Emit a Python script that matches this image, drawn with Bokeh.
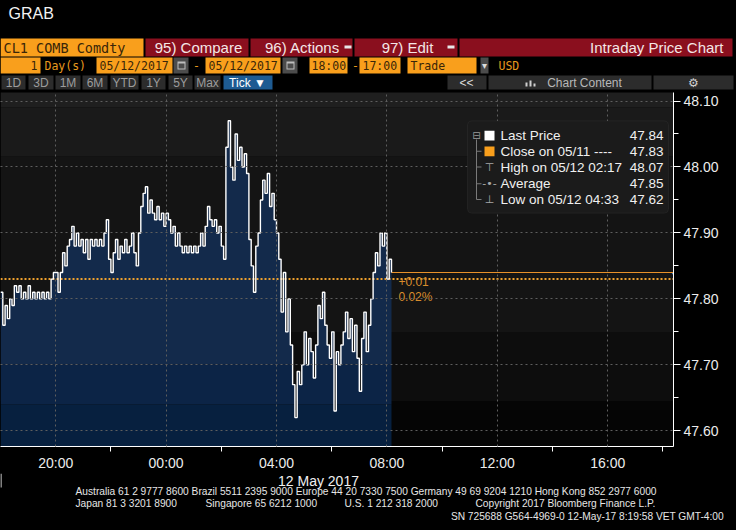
import numpy as np
import pandas as pd
from bokeh.plotting import figure
from bokeh.models import (Range1d, FixedTicker, NumeralTickFormatter, DatetimeTickFormatter,
                          Label, BoxAnnotation, ColumnDataSource)
from bokeh.layouts import column
from bokeh.embed import file_html
from bokeh.resources import INLINE

# ---------------- data ----------------
price = [
    47.81, 47.76, 47.79, 47.77, 47.80, 47.79, 47.82, 47.81, 47.82, 47.80,
    47.81, 47.80, 47.82, 47.80, 47.81, 47.80, 47.81, 47.80, 47.81, 47.80,
    47.81, 47.80, 47.83, 47.84, 47.84, 47.81, 47.84, 47.87, 47.85, 47.88,
    47.89, 47.91, 47.88, 47.90, 47.88, 47.89, 47.87, 47.89, 47.86, 47.89,
    47.88, 47.89, 47.88, 47.89, 47.88, 47.90, 47.92, 47.86, 47.84, 47.87,
    47.89, 47.86, 47.88, 47.87, 47.89, 47.87, 47.88, 47.90, 47.87, 47.85,
    47.90, 47.94, 47.96, 47.97, 47.93, 47.95, 47.93, 47.92, 47.94, 47.92,
    47.93, 47.91, 47.93, 47.92, 47.90, 47.91, 47.88, 47.90, 47.88, 47.87,
    47.88, 47.87, 47.88, 47.87, 47.88, 47.87, 47.88, 47.90, 47.88, 47.91,
    47.94, 47.92, 47.91, 47.92, 47.90, 47.91, 47.88, 47.86, 48.03, 48.07,
    48.00, 47.98, 48.05, 48.01, 48.03, 48.00, 48.02, 47.99, 47.89, 47.85,
    47.81, 47.88, 47.90, 47.95, 47.98, 47.96, 47.99, 47.94, 47.96, 47.92,
    47.90, 47.86, 47.78, 47.84, 47.75, 47.80, 47.73, 47.67, 47.62, 47.69,
    47.67, 47.70, 47.75, 47.70, 47.74, 47.72, 47.68, 47.73, 47.79, 47.77,
    47.81, 47.76, 47.73, 47.71, 47.75, 47.63, 47.72, 47.70, 47.73, 47.75,
    47.78, 47.74, 47.77, 47.72, 47.76, 47.71, 47.66, 47.74, 47.78, 47.72,
    47.76, 47.80, 47.84, 47.87, 47.85, 47.90, 47.88, 47.90, 47.83, 47.86,
    47.84,
]
start_time = "2017-05-11 18:00"
window_hours = 24.384
prev_close = 47.83
change_text = ["+0.01", "0.02%"]

legend_names = ["Last Price", "Close on 05/11 ----", "High on 05/12 02:17", "Average", "Low on 05/12 04:33"]
legend_values = ["47.84", "47.83", "48.07", "47.85", "47.62"]

y_ticks = [47.60, 47.70, 47.80, 47.90, 48.00, 48.10]
y_minor = [47.65, 47.75, 47.85, 47.95, 48.05]
x_major = ["2017-05-11 20:00", "2017-05-12 00:00", "2017-05-12 04:00",
           "2017-05-12 08:00", "2017-05-12 12:00", "2017-05-12 16:00"]
x_minor = ["2017-05-11 22:00", "2017-05-12 02:00", "2017-05-12 06:00",
           "2017-05-12 10:00", "2017-05-12 14:00", "2017-05-12 18:00"]
date_label = "12 May 2017"

bg_edges = [47.50, 47.645, 47.749, 48.016, 48.090, 48.20]
bg_colors = ["#050505", "#0d0d0d", "#141414", "#1a1a1a", "#1f1f1f"]
fill_edges = [47.50, 47.64, 47.70, 48.20]
fill_colors = ["#07203f", "#0c2446", "#132a4b"]

footer_lines = [
    (75, 18, "left", "Australia 61 2 9777 8600 Brazil 5511 2395 9000 Europe 44 20 7330 7500 Germany 49 69 9204 1210 Hong Kong 852 2977 6000"),
    (75, 30, "left", "Japan 81 3 3201 8900"),
    (205, 30, "left", "Singapore 65 6212 1000"),
    (344, 30, "left", "U.S. 1 212 318 2000"),
    (475, 30, "left", "Copyright 2017 Bloomberg Finance L.P."),
    (729, 43, "right", "SN 725688 G564-4969-0 12-May-17  8:19:58 VET  GMT-4:00"),
]

ORANGE = "#f99f1c"
RED = "#8a0f1e"
GRAY = "#4c4c4c"
BTN = "#2c2c2c"
DARK = "#3a2608"
SANS = "Liberation Sans"
MONO = "DejaVu Sans Mono"


def ms(s):
    return pd.Timestamp(s).value / 1e6


def draw_texts(fig, rows):
    src = ColumnDataSource(dict(
        x=[r[0] for r in rows], y=[r[1] for r in rows], text=[r[2] for r in rows],
        color=[r[3] for r in rows], size=[r[4] for r in rows],
        align=[r[5] for r in rows], font=[r[6] for r in rows]))
    fig.text(x="x", y="y", text="text", text_color="color", text_font_size="size",
             text_align="align", text_font="font", text_baseline="middle", source=src)


def draw_boxes(fig, rows):
    src = ColumnDataSource(dict(
        l=[r[0] for r in rows], r=[r[1] for r in rows], t=[r[2] for r in rows],
        b=[r[3] for r in rows], c=[r[4] for r in rows]))
    fig.quad(left="l", right="r", top="t", bottom="b", fill_color="c", line_color=None, source=src)


def pixel_fig(h):
    f = figure(width=736, height=h, x_range=Range1d(0, 736), y_range=Range1d(h, 0),
               toolbar_location=None, output_backend="svg", x_axis_location=None,
               y_axis_location=None, min_border=0, background_fill_color="black",
               border_fill_color="black", outline_line_color=None, frame_align=False)
    f.xgrid.visible = False
    f.ygrid.visible = False
    return f


# ---------------- header ----------------
header = pixel_fig(92)
buttons = [("1D", 1, 25), ("3D", 28, 53), ("1M", 55, 80), ("6M", 82, 107), ("YTD", 110, 138),
           ("1Y", 141, 165), ("5Y", 168, 192), ("Max", 194, 220)]
hb = [
    (0, 143, 38, 56, ORANGE), (145, 248, 38, 56, RED), (250, 352, 38, 56, RED),
    (354, 457, 38, 56, RED), (459, 732, 38, 56, RED),
    (344, 351, 45, 48, "#e8e8e8"), (447, 454, 45, 48, "#e8e8e8"),
    (0, 40, 57, 73, ORANGE), (96, 172, 57, 73, ORANGE), (173, 188, 57, 73, GRAY),
    (205, 280, 57, 73, ORANGE), (282, 297, 57, 73, GRAY), (309, 347, 57, 73, ORANGE),
    (359, 400, 57, 73, ORANGE), (407, 476, 57, 73, ORANGE), (480, 488, 57, 73, GRAY),
    (177, 185, 61, 69, "#bdbdbd"), (178, 184, 63, 68, GRAY),
    (286, 294, 61, 69, "#bdbdbd"), (287, 293, 63, 68, GRAY),
]
for _, a, b in buttons:
    hb.append((a, b, 75, 89, BTN))
hb += [(223, 272, 75, 89, "#1e5b92"), (447, 486, 75, 89, BTN), (488, 651, 75, 89, BTN),
       (653, 733, 75, 89, BTN),
       (525, 527, 82, 86, "#cfcfcf"), (529, 531, 80, 86, "#cfcfcf"), (533, 535, 83, 86, "#cfcfcf")]
draw_boxes(header, hb)

ht = [
    (8, 13, "GRAB", "#f2f2f2", "16px", "left", SANS),
    (3, 47, "CL1 COMB Comdty", DARK, "13.5px", "left", MONO),
    (198, 47, "95) Compare", "#f4e6e6", "15px", "center", SANS),
    (302, 47, "96) Actions", "#f4e6e6", "15px", "center", SANS),
    (407, 47, "97) Edit", "#f4e6e6", "15px", "center", SANS),
    (723, 47, "Intraday Price Chart", "#f4e6e6", "15px", "right", SANS),
    (37, 65, "1", DARK, "11.5px", "right", MONO),
    (44, 65, "Day(s)", "#e8991e", "11.5px", "left", MONO),
    (99, 65, "05/12/2017", DARK, "11.5px", "left", MONO),
    (196, 65, "-", "#e8991e", "11.5px", "center", MONO),
    (208, 65, "05/12/2017", DARK, "11.5px", "left", MONO),
    (311, 65, "18:00", DARK, "11.5px", "left", MONO),
    (355, 65, "-", "#e8991e", "11.5px", "center", MONO),
    (362, 65, "17:00", DARK, "11.5px", "left", MONO),
    (410, 65, "Trade", DARK, "11.5px", "left", MONO),
    (484, 65, "▾", "#dddddd", "10px", "center", SANS),
    (498, 65, "USD", "#e8991e", "11.5px", "left", MONO),
    (247, 82, "Tick ▼", "#ffffff", "12px", "center", SANS),
    (466, 82, "<<", "#dcdcdc", "12px", "center", SANS),
    (584, 82, "Chart Content", "#b8b8b8", "12px", "center", SANS),
    (693, 82, "⚙", "#cfcfcf", "12px", "center", "DejaVu Sans"),
]
for name, a, b in buttons:
    ht.append(((a + b) / 2, 82, name, "#9c9c9c", "12px", "center", SANS))
draw_texts(header, ht)

# ---------------- chart ----------------
times = pd.date_range(start_time, periods=len(price), freq="5min")
x_start = ms(start_time)
x_end = x_start + window_hours * 3600e3
price_arr = np.array(price)

p = figure(width=736, height=381, x_axis_type="datetime", y_axis_location="right",
           x_range=Range1d(x_start, x_end), y_range=Range1d(47.5762, 48.1129),
           toolbar_location=None, output_backend="svg", frame_align=False,
           background_fill_color="black", border_fill_color="black", outline_line_color=None,
           min_border_left=0, min_border_top=0, min_border_right=63, min_border_bottom=20)
p.extra_x_ranges = {"px": Range1d(0, 673)}
p.extra_y_ranges = {"py": Range1d(453, 92)}

# background bands
p.quad(left=x_start, right=x_end, bottom=bg_edges[:-1], top=bg_edges[1:],
       fill_color=bg_colors, line_color=None)

# area fill bands under the price
for lo, hi, col in zip(fill_edges[:-1], fill_edges[1:], fill_colors):
    p.varea_step(x=times, y1=np.full(len(price), lo), y2=np.clip(price_arr, lo, hi),
                 step_mode="after", fill_color=col)

# previous close (dotted) and last price line
p.line(x=[x_start, x_end], y=[prev_close, prev_close], line_color="#eea12e",
       line_width=2, line_dash="2 2")
p.line(x=[times[-1], pd.Timestamp(x_end, unit="ms")], y=[price[-1], price[-1]],
       line_color="#e8912a", line_width=1.2)

p.step(x=times, y=price, mode="after", line_color="white", line_width=1.4)

p.text(x=[times[-1] + pd.Timedelta(minutes=15)] * 2, y=[prev_close, prev_close],
       text=change_text, y_offset=[2, 18], text_color="#d88c2c", text_font_size="12px",
       text_baseline="middle", text_align="left")

# axes
p.xaxis.ticker = FixedTicker(ticks=[ms(t) for t in x_major], minor_ticks=[ms(t) for t in x_minor])
p.xaxis.formatter = DatetimeTickFormatter(hours="%H:%M", hourmin="%H:%M", days="%H:%M",
                                          minutes="%H:%M", minsec="%H:%M", context=None)
p.xaxis.axis_line_color = "white"
p.xaxis.major_tick_out = 0
p.xaxis.major_tick_in = 0
p.xaxis.minor_tick_out = 5
p.xaxis.minor_tick_in = 0
p.xaxis.minor_tick_line_color = "white"
p.xaxis.major_label_standoff = 3
p.xaxis.major_label_text_color = "#ececec"
p.xaxis.major_label_text_font = SANS
p.xaxis.major_label_text_font_size = "14px"

p.yaxis.ticker = FixedTicker(ticks=y_ticks, minor_ticks=y_minor)
p.yaxis.formatter = NumeralTickFormatter(format="0.00")
p.yaxis.axis_line_color = "white"
p.yaxis.major_tick_out = 7
p.yaxis.major_tick_in = 0
p.yaxis.major_tick_line_color = "white"
p.yaxis.minor_tick_out = 5
p.yaxis.minor_tick_in = 0
p.yaxis.minor_tick_line_color = "white"
p.yaxis.major_label_standoff = 3
p.yaxis.major_label_text_color = "#ececec"
p.yaxis.major_label_text_font = SANS
p.yaxis.major_label_text_font_size = "14px"

for g in (p.xgrid, p.ygrid):
    g.grid_line_color = "#5e5e5e"
    g.grid_line_dash = "2 3"
    g.level = "annotation"
p.xgrid.ticker = FixedTicker(ticks=[ms(t) for t in x_major])
p.ygrid.ticker = FixedTicker(ticks=y_ticks)

# arrow heads on the price axis
for t in y_ticks:
    p.add_layout(Label(x=673, y=t, x_range_name="px", text="►", text_color="white",
                       text_font_size="8px", text_baseline="middle", text_align="left"))

# last price tag
p.add_layout(Label(x=671, y=price[-1], x_range_name="px", text="◀", text_color="white",
                   text_font_size="13px", text_baseline="middle", text_align="left"))
p.add_layout(Label(x=680, y=price[-1], x_range_name="px", text=legend_values[0],
                   text_color="black", background_fill_color="white", padding=1,
                   text_font=SANS, text_font_size="14px", text_baseline="middle",
                   text_align="left"))

# legend panel
p.add_layout(BoxAnnotation(left=467, right=668, top=121, bottom=215, x_range_name="px",
                           y_range_name="py", fill_color="#1b1b1b", fill_alpha=1,
                           line_color="#3a3a3a", line_width=1, border_radius=4))
rows_y = [136, 152, 168, 185, 201]
p.add_layout(BoxAnnotation(left=475.5, right=476.5, top=140, bottom=201, x_range_name="px",
                           y_range_name="py", fill_color="#7a7a7a", fill_alpha=1, line_color=None))
for yy in rows_y[1:]:
    p.add_layout(BoxAnnotation(left=476, right=481, top=yy - 0.5, bottom=yy + 0.5, x_range_name="px",
                               y_range_name="py", fill_color="#7a7a7a", fill_alpha=1, line_color=None))
p.add_layout(Label(x=476, y=136, x_range_name="px", y_range_name="py", text="⊟",
                   text_color="#9a9a9a", text_font="DejaVu Sans", text_font_size="10px",
                   text_baseline="middle", text_align="center"))
p.add_layout(BoxAnnotation(left=484, right=494, top=131, bottom=141, x_range_name="px",
                           y_range_name="py", fill_color="white", fill_alpha=1, line_color=None))
p.add_layout(BoxAnnotation(left=484, right=494, top=147, bottom=157, x_range_name="px",
                           y_range_name="py", fill_color="#f99f1c", fill_alpha=1, line_color=None))
for yy, sym in zip(rows_y[2:], ["⊤", "-•-", "⊥"]):
    p.add_layout(Label(x=489, y=yy, x_range_name="px", y_range_name="py", text=sym,
                       text_color="#a8a8a8", text_font="DejaVu Sans", text_font_size="11px",
                       text_baseline="middle", text_align="center"))
for yy, name, val in zip(rows_y, legend_names, legend_values):
    p.add_layout(Label(x=500, y=yy, x_range_name="px", y_range_name="py", text=name,
                       text_color="#f0f0f0", text_font=SANS, text_font_size="13.5px",
                       text_baseline="middle", text_align="left"))
    p.add_layout(Label(x=663, y=yy, x_range_name="px", y_range_name="py", text=val,
                       text_color="#f0f0f0", text_font=SANS, text_font_size="13.5px",
                       text_baseline="middle", text_align="right"))

# ---------------- footer ----------------
footer = pixel_fig(57)
draw_boxes(footer, [(0, 1, 0, 14, "white")])
ft = [(318, 7, date_label, "#f0f0f0", "14px", "center", SANS)]
for x, y, al, t in footer_lines:
    ft.append((x, y, t, "#e6e6e6", "10.2px", al, SANS))
draw_texts(footer, ft)

layout = column(header, p, footer, spacing=0, styles={"background-color": "black"})

open("out.html", "w").write(file_html(layout, INLINE))
